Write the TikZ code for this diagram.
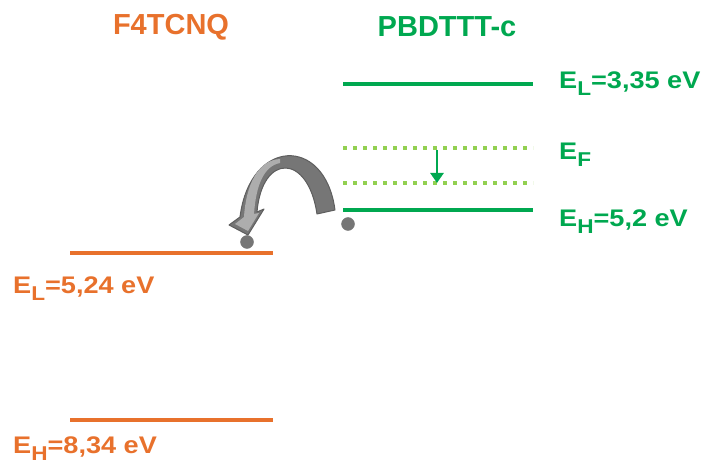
\documentclass[tikz,border=0pt]{standalone}
\usepackage{graphicx}
\usepackage{fontspec}
\setmainfont{Liberation Sans}
\usetikzlibrary{arrows.meta}
\definecolor{donorange}{RGB}{232,113,44}
\definecolor{accgreen}{RGB}{0,168,80}
\definecolor{fermigreen}{RGB}{146,208,80}
\definecolor{holegray}{RGB}{118,118,118}
\newcommand{\lsub}[1]{\raisebox{-7pt}{\fontsize{20}{20}\selectfont #1}}
\newcommand{\widetxt}[1]{\scalebox{1.13}[1]{#1}}
\tikzset{
  level/.style={line width=4pt},
  fermi/.style={line width=4pt, fermigreen, dash pattern=on 4pt off 6pt},
  title/.style={font=\fontsize{29}{33}\selectfont\bfseries},
  energy/.style={font=\fontsize{24}{29}\selectfont\bfseries, anchor=base west, inner sep=0pt}
}
\begin{document}
\begin{tikzpicture}[x=1pt,y=-1pt]
    \useasboundingbox (0,0) rectangle (707,465);

        % titles
        \node[title, donorange] (tA) at (171,27) {F4TCNQ};
        \node[title, accgreen] (tD) at (447,27) {PBDTTT-c};

        % PBDTTT-c levels
        \draw[level, accgreen] (343,84) -- (533,84);
        \draw[fermi] (343,148) -- (533,148);
        \draw[fermi] (343,183) -- (533,183);
        \draw[level, accgreen] (343,210) -- (533,210);
        \coordinate (fU) at (437,150);
        \coordinate (fL) at (437,183);
        \draw[accgreen, line width=2.5pt, -{Triangle[width=13pt,length=10pt]}] (fU) -- (fL);

        \node[energy, accgreen] (eLD) at (559,89) {\widetxt{E\lsub{L}=3,35 eV}};
        \node[energy, accgreen] (eF) at (559,160) {\widetxt{E\lsub{F}}};
        \node[energy, accgreen] (eHD) at (559,227) {\widetxt{E\lsub{H}=5,2 eV}};

        % F4TCNQ levels
        \draw[level, donorange] (70,253) -- (273,253);
        \draw[level, donorange] (70,420) -- (273,420);
        \node[energy, donorange] (eLA) at (13,293) {\widetxt{E\lsub{L}=5,24 eV}};
        \node[energy, donorange] (eHA) at (13,453) {\widetxt{E\lsub{H}=8,34 eV}};

        % electrons
        \draw[fill, holegray] (247,242) circle [radius=6.5];
        \draw[fill, holegray] (348,224) circle [radius=6.5];

        % transfer arrow
        \draw[fill=holegray, draw=holegray!80!black, line width=1pt, line join=round]
            (335,210) .. controls (325,135) and (250,138) .. (240,217)
            -- (229,225) -- (248,235) -- (264,209) -- (257,212)
            .. controls (262,153) and (308,153) .. (317,214) -- cycle;
        \draw[fill=holegray!60!white, draw=none]
            (280,159) .. controls (258,160) and (246,185) .. (244,217)
            -- (235,224) -- (248,231) -- (259,213) -- (254,214)
            .. controls (256,185) and (264,166) .. (280,163) -- cycle;
    \end{tikzpicture}
\end{document}
